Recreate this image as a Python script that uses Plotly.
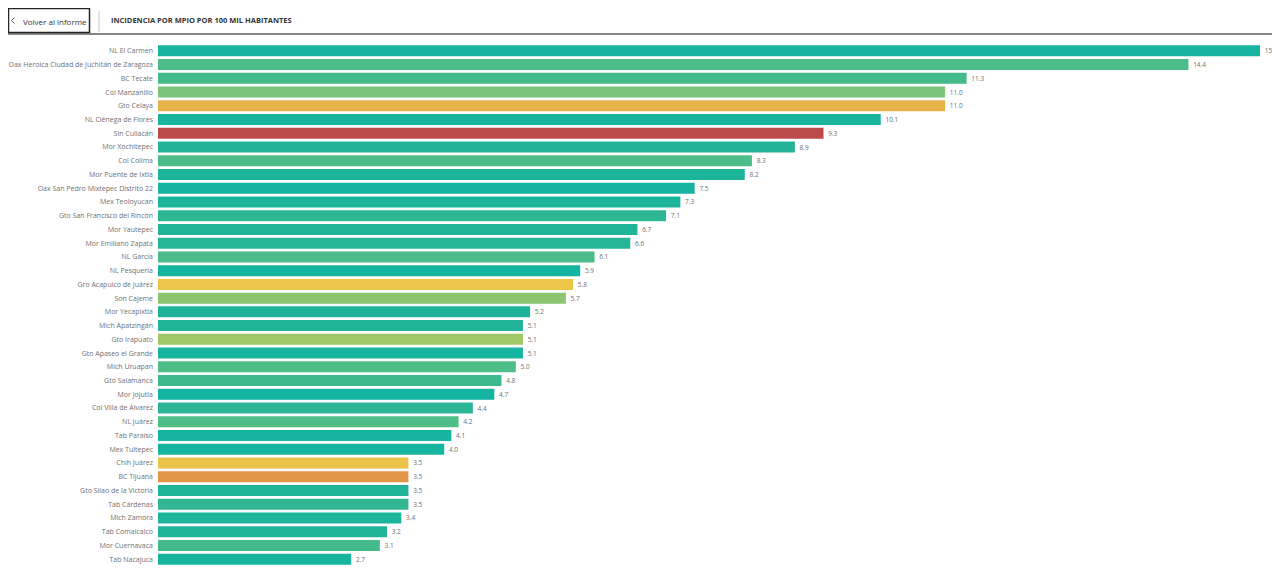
import plotly.graph_objects as go

# municipios y valores (incidencia por 100 mil habitantes)
municipios = [
    "NL El Carmen", "Oax Heroica Ciudad de Juchitán de Zaragoza", "BC Tecate",
    "Col Manzanillo", "Gto Celaya", "NL Ciénega de Flores", "Sin Culiacán",
    "Mor Xochitepec", "Col Colima", "Mor Puente de Ixtla",
    "Oax San Pedro Mixtepec Distrito 22", "Mex Teoloyucan",
    "Gto San Francisco del Rincón", "Mor Yautepec", "Mor Emiliano Zapata",
    "NL García", "NL Pesquería", "Gro Acapulco de Juárez", "Son Cajeme",
    "Mor Yecapixtla", "Mich Apatzingán", "Gto Irapuato", "Gto Apaseo el Grande",
    "Mich Uruapan", "Gto Salamanca", "Mor Jojutla", "Col Villa de Álvarez",
    "NL Juárez", "Tab Paraíso", "Mex Tultepec", "Chih Juárez", "BC Tijuana",
    "Gto Silao de la Victoria", "Tab Cárdenas", "Mich Zamora", "Tab Comalcalco",
    "Mor Cuernavaca", "Tab Nacajuca",
]
incidencia = [
    15.4, 14.4, 11.3, 11.0, 11.0, 10.1, 9.3, 8.9, 8.3, 8.2,
    7.5, 7.3, 7.1, 6.7, 6.6, 6.1, 5.9, 5.8, 5.7, 5.2,
    5.1, 5.1, 5.1, 5.0, 4.8, 4.7, 4.4, 4.2, 4.1, 4.0,
    3.5, 3.5, 3.5, 3.5, 3.4, 3.2, 3.1, 2.7,
]
colores = [
    "#17B59F", "#4CBD88", "#45BB8C", "#7DC47A", "#E8B44A", "#1AB59C", "#BA4B4A",
    "#23B497", "#4CBD88", "#1EB49A", "#17B59F", "#1CB49B", "#2DB693", "#22B498",
    "#25B597", "#4BBC89", "#13B4A0", "#EDC649", "#8CC46F", "#1EB49A", "#22B498",
    "#9FC765", "#17B59F", "#4EBD88", "#3DBA8D", "#13B4A0", "#2AB595", "#4FBD87",
    "#17B59F", "#17B59F", "#EDC24A", "#E0974A", "#22B498", "#33B692", "#1CB49B",
    "#22B498", "#45BB8C", "#17B59F",
]

# the page body has an 8px margin, so the figure is a bit smaller than the window
OFF = 8
W, H = 1280 - OFF, 572 - OFF
L, R, T, B = 150, 20, 36, 6
PW, PH = W - L - R, H - T - B


# page pixel -> paper coords, for the header bits
def px(x):
    return (x - OFF - L) / PW


def py(y):
    return 1 - (y - OFF - T) / PH


fig = go.Figure()
fig.add_trace(go.Bar(
    x=incidencia,
    y=municipios,
    orientation="h",
    marker=dict(color=colores, line_width=0),
    # nbsp so the label sits a little further from the bar end
    text=[f"\u00a0{v:.1f}" for v in incidencia],
    textposition="outside",
    textfont=dict(size=6.5, color="#707070", family="Open Sans"),
    constraintext="none",
    cliponaxis=False,
    hovertemplate="%{y}: %{x:.1f}<extra></extra>",
))

shapes = [
    # linea bajo el encabezado
    dict(type="line", xref="paper", yref="paper", x0=px(0), x1=px(1290), y0=py(34), y1=py(34),
         line=dict(color="#111111", width=1)),
    # boton "Volver al informe"
    dict(type="rect", xref="paper", yref="paper", x0=px(8.5), x1=px(89.5), y0=py(8.5), y1=py(32.5),
         line=dict(color="#252525", width=1.5), fillcolor="white"),
    # separador
    dict(type="line", xref="paper", yref="paper", x0=px(99), x1=px(99), y0=py(11), y1=py(32),
         line=dict(color="#c8c8c8", width=1)),
    # chevron
    dict(type="path", xref="paper", yref="paper",
         path=f"M {px(14.5)},{py(17.5)} L {px(11.5)},{py(20.5)} L {px(14.5)},{py(23.5)}",
         line=dict(color="#555555", width=1)),
]

annotations = [
    dict(text="Volver al informe", xref="paper", yref="paper", x=px(21), y=py(21),
         xanchor="left", yanchor="middle", showarrow=False,
         font=dict(size=8, color="#333333", family="Open Sans")),
    dict(text="<b>INCIDENCIA POR MPIO POR 100 MIL HABITANTES</b>", xref="paper", yref="paper",
         x=px(109), y=py(20.5), xanchor="left", yanchor="middle", showarrow=False,
         font=dict(size=7.5, color="#333333", family="Open Sans")),
]

fig.update_layout(
    width=W, height=H,
    margin=dict(l=L, r=R, t=T, b=B, autoexpand=False),
    paper_bgcolor="white",
    plot_bgcolor="white",
    showlegend=False,
    bargap=0.2,
    shapes=shapes,
    annotations=annotations,
    xaxis=dict(range=[0, 15.4], visible=False, fixedrange=True),
    yaxis=dict(autorange="reversed", showgrid=False, zeroline=False, showline=False,
               ticks="", ticklabelstandoff=4, automargin=False,
               tickfont=dict(size=7, color="#707070", family="Open Sans")),
)

fig.write_html("out.html")
